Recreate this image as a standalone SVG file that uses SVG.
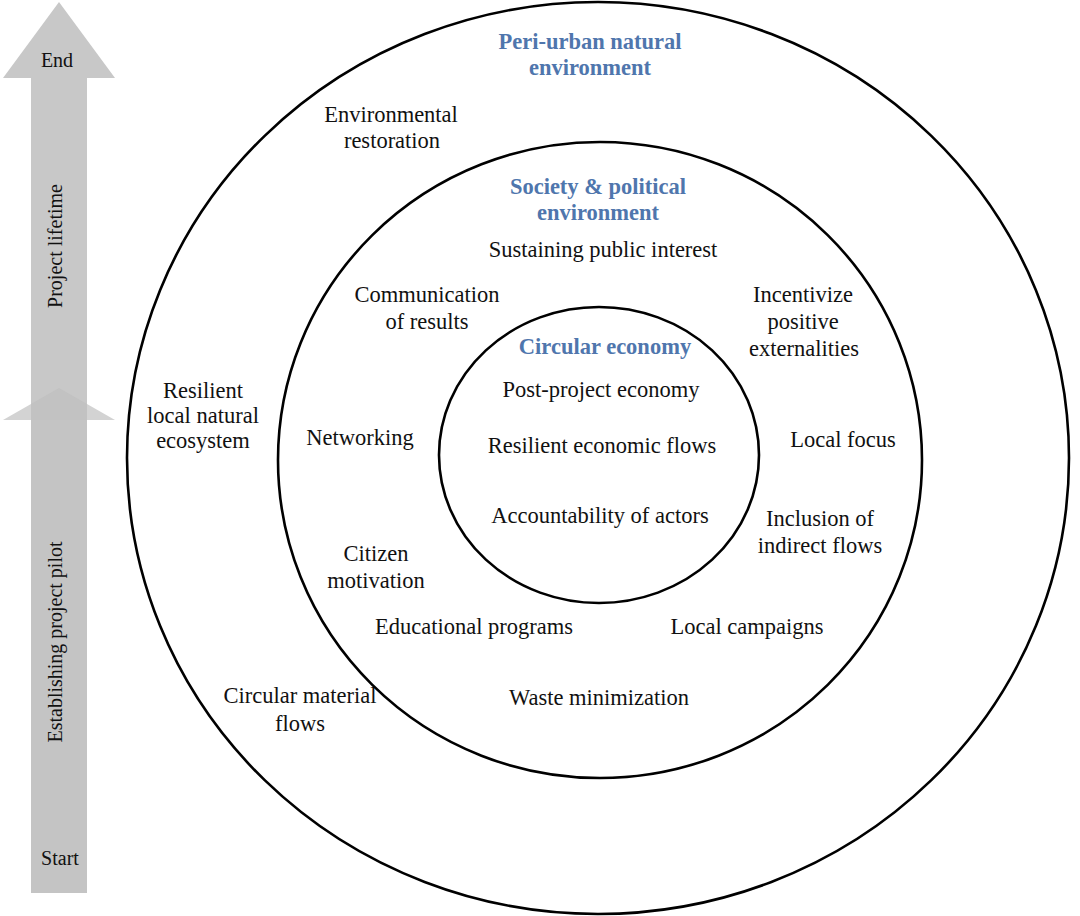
<svg xmlns="http://www.w3.org/2000/svg" width="1080" height="916" viewBox="0 0 1080 916">
<style>
.t{font-family:"Liberation Serif","Times New Roman",serif;font-size:22.5px;fill:#111;text-anchor:middle}
.h{font-family:"Liberation Serif","Times New Roman",serif;font-size:22.5px;font-weight:bold;fill:#4f76ad;text-anchor:middle}
.a{font-family:"Liberation Serif","Times New Roman",serif;font-size:20px;fill:#111;text-anchor:middle}
.ring{fill:none;stroke:#000;stroke-width:2.6}
</style>
<rect width="1080" height="916" fill="#fff"/>
<g id="timeline">
  <g id="arrow-pilot">
    <rect x="31" y="405" width="56" height="488" fill="#c4c4c4"/>
    <polygon points="59,388 115,420 3,420" fill="#d3d3d3"/>
    <text class="a" transform="translate(62,642) rotate(-90)">Establishing project pilot</text>
    <text class="a" x="60" y="865">Start</text>
  </g>
  <g id="arrow-lifetime">
    <polygon points="59,2 115,78 87,78 87,420 31,420 31,78 3,78" fill="#c8c8c8"/>
    <polygon points="59,388 87,404 87,420 31,420 31,404" fill="#c2c2c2"/>
    <text class="a" x="57" y="67">End</text>
    <text class="a" transform="translate(62,246) rotate(-90)">Project lifetime</text>
  </g>
</g>
<g id="peri-urban">
  <ellipse class="ring" cx="598" cy="458" rx="471" ry="456"/>
  <text class="h" x="590" y="49">Peri-urban natural</text>
  <text class="h" x="590" y="75">environment</text>
  <text class="t" x="391" y="122">Environmental</text>
  <text class="t" x="392" y="148">restoration</text>
  <text class="t" x="203" y="398">Resilient</text>
  <text class="t" x="203" y="423">local natural</text>
  <text class="t" x="203" y="448">ecosystem</text>
  <text class="t" x="300" y="703">Circular material</text>
  <text class="t" x="300" y="731">flows</text>
</g>
<g id="society">
  <ellipse class="ring" cx="600" cy="460" rx="322" ry="318"/>
  <text class="h" x="598" y="194">Society &amp; political</text>
  <text class="h" x="598" y="220">environment</text>
  <text class="t" x="603" y="257">Sustaining public interest</text>
  <text class="t" x="427" y="302">Communication</text>
  <text class="t" x="427" y="329">of results</text>
  <text class="t" x="803" y="302">Incentivize</text>
  <text class="t" x="803" y="329">positive</text>
  <text class="t" x="804" y="356">externalities</text>
  <text class="t" x="360" y="445">Networking</text>
  <text class="t" x="843" y="447">Local focus</text>
  <text class="t" x="820" y="526">Inclusion of</text>
  <text class="t" x="820" y="553">indirect flows</text>
  <text class="t" x="376" y="561">Citizen</text>
  <text class="t" x="376" y="588">motivation</text>
  <text class="t" x="474" y="634">Educational programs</text>
  <text class="t" x="747" y="634">Local campaigns</text>
  <text class="t" x="599" y="705">Waste minimization</text>
</g>
<g id="circular-economy">
  <ellipse class="ring" cx="599" cy="455" rx="160" ry="148"/>
  <text class="h" x="605" y="354">Circular economy</text>
  <text class="t" x="601" y="397">Post-project economy</text>
  <text class="t" x="602" y="453">Resilient economic flows</text>
  <text class="t" x="600" y="523">Accountability of actors</text>
</g>
</svg>
